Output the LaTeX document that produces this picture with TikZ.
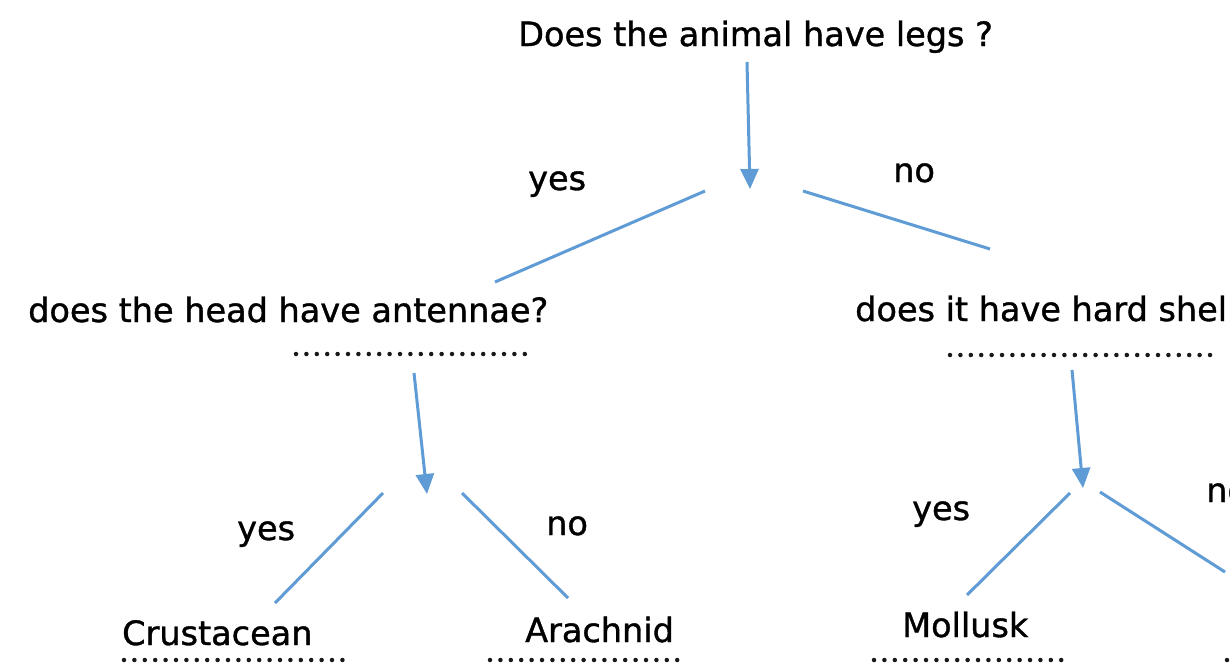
\documentclass[tikz,border=0pt]{standalone}
\usepackage{fontspec}
\setmainfont{DejaVu Sans}[BoldFont={DejaVu Sans}, BoldFeatures={FakeBold=1.1}]
\usetikzlibrary{arrows.meta}
\definecolor{lineblue}{RGB}{95,155,213}
\tikzset{
  lbl/.style={inner sep=0pt, anchor=base west, font=\fontsize{33.5}{38}\selectfont\bfseries, text=black},
  conn/.style={draw=lineblue, line width=3pt},
  arr/.style={conn, -{Triangle[width=18pt,length=20pt]}},
  dots/.style={draw=black!90, line width=4.5pt, dash pattern=on 0pt off 10.4pt, line cap=round}
}
\begin{document}
\begin{tikzpicture}[x=1pt,y=-1pt]
\useasboundingbox (0,0) rectangle (1230,670);
\clip (0,0) rectangle (1230,670);
\fill[white] (0,0) rectangle (1230,670);

% texts
\node[lbl] (q1) at (518,46) {Does the animal have legs ?};
\node[lbl] (y1) at (528,190) {yes};
\node[lbl] (n1) at (893,182) {no};
\node[lbl] (q2) at (28,322) {does the head have antennae?};
\node[lbl] (q3) at (855,321) {does it have hard shell?};
\node[lbl] (y2) at (237,540) {yes};
\node[lbl] (n2) at (546,535) {no};
\node[lbl] (y3) at (912,520) {yes};
\node[lbl] (n3) at (1206,502) {no};
\node[lbl] (c1) at (122,645) {Crustacean};
\node[lbl] (c2) at (525,642) {Arachnid};
\node[lbl] (c3) at (902,637) {Mollusk};

% connector end points
\coordinate (a1s) at (747,62);   \coordinate (a1e) at (750,189);
\coordinate (l1s) at (705,191);  \coordinate (l1e) at (495,282);
\coordinate (r1s) at (803,191);  \coordinate (r1e) at (990,249);
\coordinate (a2s) at (414,373);  \coordinate (a2e) at (427,494);
\coordinate (l2s) at (383,493);  \coordinate (l2e) at (275,603);
\coordinate (r2s) at (462,493);  \coordinate (r2e) at (568,598);
\coordinate (a3s) at (1072,370); \coordinate (a3e) at (1083,488);
\coordinate (l3s) at (1070,493); \coordinate (l3e) at (967,595);
\coordinate (r3s) at (1100,492); \coordinate (r3e) at (1225,572);

\draw[arr] (a1s) -- (a1e);
\draw[conn] (l1s) -- (l1e);
\draw[conn] (r1s) -- (r1e);
\draw[arr] (a2s) -- (a2e);
\draw[conn] (l2s) -- (l2e);
\draw[conn] (r2s) -- (r2e);
\draw[arr] (a3s) -- (a3e);
\draw[conn] (l3s) -- (l3e);
\draw[conn] (r3s) -- (r3e);

% dotted answer lines
\coordinate (d1s) at (296,354);  \coordinate (d1e) at (526,354);
\coordinate (d2s) at (950,355);  \coordinate (d2e) at (1210,355);
\coordinate (d3s) at (124,660);  \coordinate (d3e) at (346,660);
\coordinate (d4s) at (490,660);  \coordinate (d4e) at (678,660);
\coordinate (d5s) at (874,660);  \coordinate (d5e) at (1070,660);
\coordinate (d6s) at (1227,660); \coordinate (d6e) at (1260,660);
\draw[dots] (d1s) -- (d1e);
\draw[dots] (d2s) -- (d2e);
\draw[dots] (d3s) -- (d3e);
\draw[dots] (d4s) -- (d4e);
\draw[dots] (d5s) -- (d5e);
\draw[dots] (d6s) -- (d6e);
\end{tikzpicture}
\end{document}
